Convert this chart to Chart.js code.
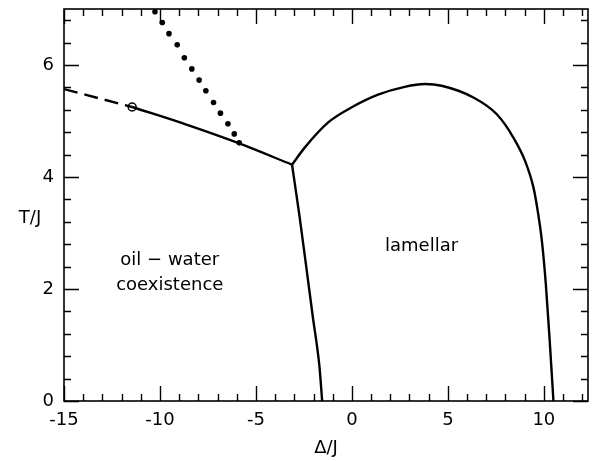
<!DOCTYPE html>
<html>
<head>
<meta charset="utf-8">
<script src="https://cdn.jsdelivr.net/npm/chart.js@4/dist/chart.umd.min.js"></script>
<style>
  html, body { margin: 0; padding: 0; background: #fff; }
  canvas { display: block; }
</style>
</head>
<body>
<canvas id="phase" width="596" height="461"></canvas>
<script>
'use strict';

// axis tick labels
const xTicks = [-15, -10, -5, 0, 5, 10];
const yTicks = [0, 2, 4, 6];

// phase boundaries (Δ/J, T/J)
const dashedLine = [{ x: -15, y: 5.57 }, { x: -11.45, y: 5.25 }];
const coexLine = [{ x: -11.45, y: 5.25 }, { x: -8.66, y: 4.94 }, { x: -5.87, y: 4.60 }, { x: -3.12, y: 4.22 }];
const dottedLine = [
  { x: -10.26, y: 6.95 }, { x: -9.88, y: 6.76 }, { x: -9.53, y: 6.56 }, { x: -9.10, y: 6.36 },
  { x: -8.73, y: 6.13 }, { x: -8.34, y: 5.93 }, { x: -7.96, y: 5.73 }, { x: -7.61, y: 5.54 },
  { x: -7.21, y: 5.33 }, { x: -6.85, y: 5.14 }, { x: -6.46, y: 4.95 }, { x: -6.13, y: 4.77 },
  { x: -5.87, y: 4.61 }
];
const lamellarArc = [
  { x: -3.12, y: 4.22 }, { x: -2.47, y: 4.52 }, { x: -1.25, y: 4.97 }, { x: -0.03, y: 5.24 },
  { x: 1.36, y: 5.47 }, { x: 2.75, y: 5.61 }, { x: 3.80, y: 5.66 }, { x: 4.67, y: 5.63 },
  { x: 6.33, y: 5.42 }, { x: 7.55, y: 5.12 }, { x: 8.42, y: 4.70 }, { x: 9.03, y: 4.28 },
  { x: 9.46, y: 3.81 }, { x: 9.70, y: 3.35 }, { x: 9.90, y: 2.85 }, { x: 10.10, y: 2.10 },
  { x: 10.30, y: 1.10 }, { x: 10.50, y: 0 }
];
const leftBoundary = [
  { x: -3.12, y: 4.22 }, { x: -2.73, y: 3.30 }, { x: -2.38, y: 2.40 },
  { x: -2.04, y: 1.51 }, { x: -1.69, y: 0.61 }, { x: -1.55, y: 0 }
];
const endPoint = [{ x: -11.45, y: 5.25 }];

// region labels
const regionLabels = [
  { text: 'oil − water', x: -9.49, y: 2.52 },
  { text: 'coexistence', x: -9.49, y: 2.07 },
  { text: 'lamellar', x: 3.63, y: 2.76 }
];

const FONT = { family: 'DejaVu Sans', size: 18 };
const INK = '#000';

const line = (data, extra) => Object.assign({
  data, showLine: true, borderColor: INK, borderWidth: 2.4, pointRadius: 0,
  cubicInterpolationMode: 'monotone', fill: false
}, extra);

// frame, inward ticks, horizontal y title and region labels
const frame = {
  id: 'frame',
  afterDatasetsDraw(chart) {
    const { ctx, chartArea: a, scales: { x, y } } = chart;
    ctx.save();
    ctx.strokeStyle = INK;
    ctx.lineWidth = 1.6;
    ctx.strokeRect(a.left, a.top, a.right - a.left, a.bottom - a.top);

    ctx.lineWidth = 1.4;
    ctx.beginPath();
    for (let v = -15; v <= 12; v++) {
      const px = Math.round(x.getPixelForValue(v)) + 0.5;
      const len = v % 5 === 0 ? 15 : 7;
      ctx.moveTo(px, a.bottom); ctx.lineTo(px, a.bottom - len);
      ctx.moveTo(px, a.top); ctx.lineTo(px, a.top + len);
    }
    for (let i = 0; i <= 17; i++) {
      const py = Math.round(y.getPixelForValue(i * 0.4)) + 0.5;
      const len = i % 5 === 0 ? 15 : 7;
      ctx.moveTo(a.left, py); ctx.lineTo(a.left + len, py);
      ctx.moveTo(a.right, py); ctx.lineTo(a.right - len, py);
    }
    ctx.stroke();

    ctx.fillStyle = INK;
    ctx.font = `${FONT.size}px "${FONT.family}"`;
    ctx.textAlign = 'center';
    ctx.textBaseline = 'middle';
    regionLabels.forEach(l => ctx.fillText(l.text, x.getPixelForValue(l.x), y.getPixelForValue(l.y)));
    ctx.fillText('T/J', 30, y.getPixelForValue(3.27));
    ctx.restore();
  }
};

new Chart(document.getElementById('phase'), {
  type: 'scatter',
  data: {
    datasets: [
      line(dashedLine, { borderDash: [14, 7], cubicInterpolationMode: 'default', tension: 0 }),
      line(coexLine),
      line(lamellarArc),
      line(leftBoundary),
      { data: dottedLine, showLine: false, pointRadius: 2.8, pointBackgroundColor: INK, pointBorderWidth: 0 },
      { data: endPoint, showLine: false, pointRadius: 4, pointBackgroundColor: '#fff', pointBorderColor: INK, pointBorderWidth: 1.5 }
    ]
  },
  options: {
    responsive: false,
    animation: false,
    devicePixelRatio: 1,
    layout: { padding: { top: 9, right: 8, left: 0, bottom: 0 } },
    plugins: { legend: { display: false }, tooltip: { enabled: false } },
    scales: {
      x: {
        type: 'linear', min: -15, max: 12.3,
        grid: { display: false, drawTicks: false },
        border: { display: false },
        ticks: { font: FONT, color: INK, padding: 9 },
        title: { display: true, text: 'Δ/J', font: FONT, color: INK, padding: { top: 0, bottom: 2 } },
        afterBuildTicks: s => { s.ticks = xTicks.map(v => ({ value: v })); },
        afterFit: s => { s.height = 60; s.paddingLeft = 0; s.paddingRight = 0; }
      },
      y: {
        type: 'linear', min: 0, max: 7,
        grid: { display: false, drawTicks: false },
        border: { display: false },
        ticks: { font: FONT, color: INK, padding: 10 },
        afterBuildTicks: s => { s.ticks = yTicks.map(v => ({ value: v })); },
        afterFit: s => { s.width = 64; s.paddingTop = 0; s.paddingBottom = 0; }
      }
    }
  },
  plugins: [frame]
});
</script>
</body>
</html>
